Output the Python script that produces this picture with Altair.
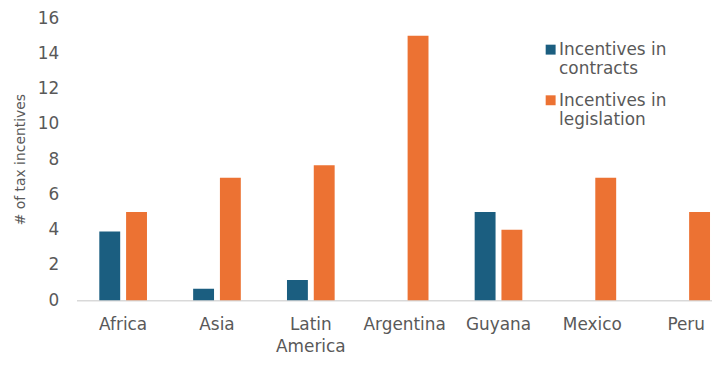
import altair as alt
import pandas as pd

categories = ["Africa", "Asia", "Latin America", "Argentina", "Guyana", "Mexico", "Peru"]
series_names = ["Incentives in contracts", "Incentives in legislation"]
contracts = [3.9, 0.65, 1.15, 0, 5, 0, 0]
legislation = [5, 6.95, 7.65, 15, 4, 6.95, 5]
y_ticks = [0, 2, 4, 6, 8, 10, 12, 14, 16]

rows = []
for c, a, b in zip(categories, contracts, legislation):
    rows.append({"region": c, "series": series_names[0], "value": a})
    rows.append({"region": c, "series": series_names[1], "value": b})
df = pd.DataFrame(rows)

FONT = "DejaVu Sans"
GRAY = "#595959"

legend_expr = ("datum.label == 'Incentives in contracts' ? ['Incentives in', 'contracts'] : "
               "['Incentives in', 'legislation']")

chart = alt.Chart(df).mark_bar().encode(
    x=alt.X("region:N", sort=categories, title=None,
            scale=alt.Scale(paddingInner=0.492, paddingOuter=0.132, align=0.92),
            axis=alt.Axis(labelAngle=0, labelFontSize=17, labelColor=GRAY, labelFont=FONT,
                          labelPadding=17, ticks=False, domainColor="#d9d9d9", domainWidth=1.5,
                          labelLineHeight=22,
                          labelExpr="datum.value == 'Latin America' ? ['Latin', 'America'] : datum.value")),
    xOffset=alt.XOffset("series:N", sort=series_names,
                        scale=alt.Scale(paddingInner=0.22, paddingOuter=0)),
    y=alt.Y("value:Q", title="# of tax incentives",
            scale=alt.Scale(domain=[0, 16], nice=False),
            axis=alt.Axis(values=y_ticks, grid=False, domain=False, ticks=False,
                          labelFontSize=17, labelColor=GRAY, labelFont=FONT, labelPadding=18,
                          titleFontSize=14, titleFontWeight="normal", titleColor=GRAY,
                          titleFont=FONT, titlePadding=10)),
    color=alt.Color("series:N", sort=series_names,
                    scale=alt.Scale(domain=series_names, range=["#1b5e80", "#ec7233"]),
                    legend=alt.Legend(title=None, orient="none", legendX=469, legendY=16,
                                      symbolType="M-1,0.44H1V2.44H-1Z", symbolSize=100,
                                      symbolStrokeWidth=0,
                                      labelFontSize=17,
                                      labelColor=GRAY, labelFont=FONT, labelLimit=300,
                                      labelBaseline="top", rowPadding=7, labelOffset=0,
                                      labelExpr=legend_expr)),
).properties(
    width=640, height=284,
    background="white",
    padding={"left": 5, "right": 0, "top": 0, "bottom": 0},
).configure_view(strokeWidth=0)

chart.save("out.html", embed_options={"renderer": "svg", "actions": False})
